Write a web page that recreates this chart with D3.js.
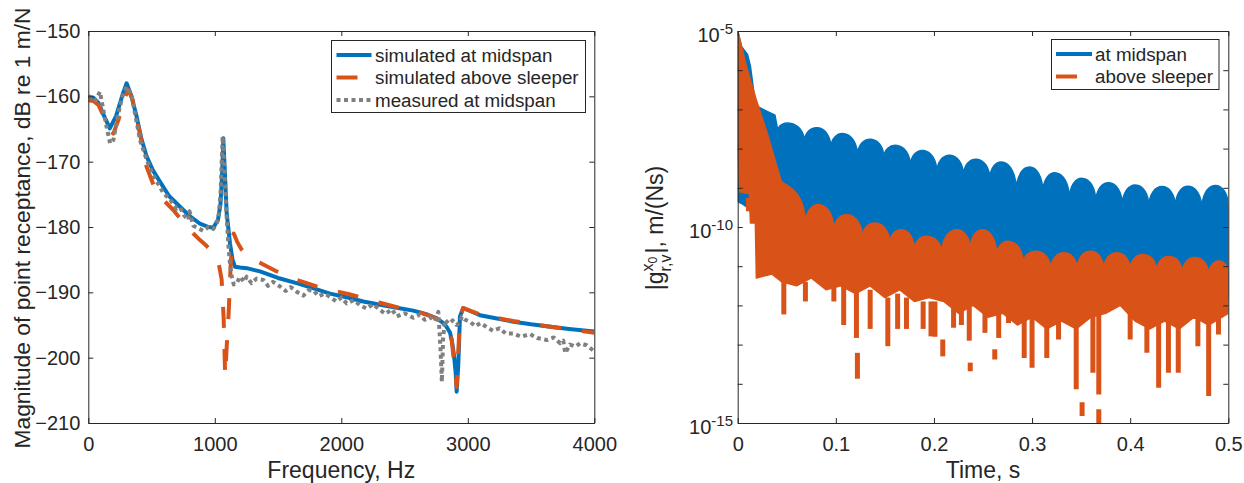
<!DOCTYPE html>
<html>
<head>
<meta charset="utf-8">
<script src="https://cdn.jsdelivr.net/npm/d3@7"></script>
<style>
  body { margin: 0; background: #fff; }
  text { font-family: "Liberation Sans", Arial, Helvetica, sans-serif; fill: #262626; }
</style>
</head>
<body>
<svg id="chart" width="1244" height="483"></svg>
<script>
// ---------- left panel: point receptance ----------
var freqTicks = [0, 1000, 2000, 3000, 4000];
var dbTicks = [-210, -200, -190, -180, -170, -160, -150];

var midFreq = [0, 40, 80, 120, 170, 220, 270, 303, 340, 382, 420, 461, 510, 567, 640, 725, 800, 883, 950, 988,
  1025, 1045, 1058, 1067, 1078, 1094, 1120, 1140, 1160, 1200, 1252, 1357, 1500, 1647, 1800, 1911, 2050, 2174,
  2306, 2450, 2569, 2680, 2754, 2800, 2833, 2860, 2873, 2890, 2905, 2912, 2925, 2938, 2964, 3000, 3096, 3200,
  3360, 3500, 3624, 3800, 4000];
var midDb = [-160.0, -160.2, -161.0, -162.8, -164.9, -163.0, -159.8, -158.0, -159.9, -163.1, -166.5, -169.2,
  -171.3, -173.1, -175.3, -176.9, -178.3, -179.5, -180.0, -180.1, -178.9, -176.5, -172.0, -166.4, -171.0,
  -177.9, -182.5, -185.0, -186.1, -186.2, -186.3, -186.8, -187.8, -188.6, -189.5, -190.2, -190.8, -191.4,
  -191.9, -192.4, -192.8, -193.4, -194.0, -194.6, -195.3, -196.2, -197.3, -199.5, -202.5, -205.2, -201.0,
  -193.7, -192.4, -192.7, -193.5, -193.9, -194.5, -194.9, -195.2, -195.6, -196.0];

var sleeperFreq = [0, 40, 80, 120, 160, 198, 240, 280, 316, 350, 400, 461, 520, 600, 672, 730, 778, 830, 883,
  930, 962, 1000, 1030, 1054, 1070, 1082, 1095, 1110, 1125, 1140, 1150, 1175, 1210, 1250, 1340, 1490, 1647,
  1805, 2062, 2306, 2464, 2600, 2754, 2833, 2873, 2912, 2938, 2964, 3096, 3360, 3624, 4000];
var sleeperDb = [-160.6, -160.7, -161.3, -163.0, -165.0, -165.7, -163.5, -160.5, -159.0, -160.5, -165.0,
  -170.8, -173.8, -176.0, -177.4, -178.8, -180.0, -181.0, -182.0, -182.8, -183.5, -184.3, -185.5, -188.0,
  -194.0, -202.8, -198.0, -193.0, -186.0, -181.5, -181.0, -182.2, -183.4, -184.2, -185.3, -186.8, -188.1,
  -189.1, -190.3, -191.6, -192.4, -192.9, -194.0, -195.3, -197.3, -204.5, -193.7, -192.4, -193.4, -194.4,
  -195.2, -196.2];

var measFreq = [0, 30, 60, 92, 119, 145, 172, 198, 237, 270, 303, 343, 369, 409, 461, 500, 540, 593, 646, 700,
  725, 760, 791, 800, 830, 870, 909, 950, 988, 1010, 1028, 1045, 1062, 1078, 1094, 1110, 1120, 1134, 1150,
  1173, 1200, 1230, 1252, 1290, 1330, 1383, 1420, 1460, 1515, 1560, 1600, 1647, 1700, 1740, 1779, 1820, 1870,
  1911, 1960, 2000, 2043, 2100, 2150, 2201, 2250, 2306, 2350, 2400, 2438, 2500, 2569, 2620, 2660, 2701, 2740,
  2767, 2775, 2785, 2795, 2805, 2820, 2850, 2880, 2910, 2940, 2952, 2980, 3017, 3060, 3100, 3149, 3200, 3250,
  3300, 3360, 3420, 3492, 3550, 3624, 3680, 3730, 3755, 3770, 3808, 3850, 3887, 3940, 3992, 4000];
var measDb = [-160.3, -160.0, -160.6, -159.3, -162.1, -164.7, -167.2, -166.7, -162.6, -160.0, -158.5, -160.0,
  -162.6, -166.7, -169.7, -171.5, -173.0, -174.8, -175.8, -177.2, -177.0, -178.3, -178.9, -177.6, -179.8,
  -180.2, -180.6, -180.0, -180.3, -179.6, -178.8, -175.0, -166.2, -172.0, -178.6, -183.5, -185.6, -187.6,
  -188.8, -188.6, -187.6, -188.4, -187.6, -188.6, -187.9, -188.1, -189.0, -188.4, -189.1, -189.8, -189.2,
  -189.9, -190.5, -189.7, -189.7, -190.6, -190.2, -190.7, -191.4, -190.8, -191.7, -191.2, -192.0, -192.5,
  -191.8, -192.7, -193.3, -192.6, -193.7, -193.2, -193.9, -193.4, -194.2, -193.8, -194.4, -193.0, -195.5,
  -199.0, -203.7, -197.0, -194.2, -194.8, -194.3, -195.0, -194.6, -193.7, -194.2, -194.5, -195.2, -194.7,
  -195.3, -195.9, -195.5, -196.3, -196.3, -196.8, -196.4, -197.0, -197.3, -196.9, -197.8, -197.4, -199.3,
  -198.0, -198.3, -197.8, -198.1, -198.9, -198.7, -198.6];

// ---------- right panel: impulse response magnitude (log10 of m/(Ns)) ----------
var timeTicks = [0, 0.1, 0.2, 0.3, 0.4, 0.5];
var decadeTicks = [-15, -14, -13, -12, -11, -10, -9, -8, -7, -6, -5];
var decadeLabels = [-15, -10, -5];

// at midspan: initial decay, then arches between valleys, then lower edge of the band
var midDecayT = [0, 0.004, 0.010, 0.013, 0.018, 0.022, 0.030, 0.038];
var midDecayLog = [-5.0, -5.4, -5.6, -5.9, -6.85, -6.95, -7.05, -7.15];
var midValleyT = [0.041, 0.068, 0.095, 0.122, 0.149, 0.176, 0.203, 0.230, 0.257, 0.284, 0.311, 0.338,
  0.365, 0.392, 0.419, 0.446, 0.473, 0.500];
var midValleyLog = [-7.55, -7.85, -8.0, -8.2, -8.25, -8.46, -8.63, -8.71, -8.8, -9.1, -9.13, -9.3, -9.38,
  -9.47, -9.5, -9.5, -9.56, -9.5];
var midPeakLog = [-7.36, -7.47, -7.62, -7.76, -7.92, -8.05, -8.17, -8.27, -8.35, -8.47, -8.62, -8.76, -8.87,
  -8.93, -8.97, -8.96, -8.94];
var midLowT = [0, 0.004, 0.010, 0.020, 0.030, 0.050, 0.100, 0.200, 0.300, 0.400, 0.500];
var midLowLog = [-9.35, -9.4, -9.5, -9.9, -10.4, -10.7, -10.9, -11.1, -11.3, -11.4, -11.8];

// above sleeper
var slpDecayT = [0, 0.003, 0.009, 0.019, 0.030, 0.040];
var slpDecayLog = [-5.0, -5.3, -5.92, -6.76, -7.6, -8.46];
var slpValleyT = [0.044, 0.069, 0.098, 0.127, 0.155, 0.180, 0.208, 0.237, 0.264, 0.291, 0.319, 0.346,
  0.373, 0.400, 0.427, 0.453, 0.480, 0.500];
var slpValleyLog = [-8.8, -9.95, -10.1, -10.3, -10.45, -10.6, -10.7, -10.6, -10.75, -10.95, -11.1, -11.1,
  -11.1, -11.1, -11.15, -11.2, -11.25, -11.2];
var slpPeakLog = [-9.05, -9.43, -9.69, -9.9, -10.07, -10.24, -10.07, -10.07, -10.37, -10.62, -10.66, -10.62,
  -10.66, -10.7, -10.75, -10.78, -10.87];
var slpLowT = [0, 0.002, 0.012, 0.013, 0.018, 0.019, 0.035, 0.045, 0.06, 0.075, 0.09, 0.105, 0.12, 0.135,
  0.15, 0.165, 0.18, 0.195, 0.21, 0.225, 0.24, 0.255, 0.27, 0.285, 0.30, 0.315, 0.33, 0.345, 0.36, 0.375,
  0.39, 0.405, 0.42, 0.435, 0.45, 0.465, 0.48, 0.5];
var slpLowLog = [-8.2, -9.1, -9.15, -9.9, -9.9, -11.3, -11.2, -11.4, -11.5, -11.3, -11.6, -11.5, -11.7, -11.5,
  -11.8, -11.6, -11.9, -11.8, -11.9, -12.2, -12.0, -12.3, -12.2, -12.5, -12.3, -12.6, -12.4, -12.6, -12.3,
  -12.2, -12.0, -12.4, -12.6, -12.4, -12.6, -12.3, -12.5, -12.2];
// downward spikes of the sleeper response: time, top, bottom
var slpSpikeT = [0.011, 0.047, 0.069, 0.098, 0.108, 0.121, 0.122, 0.135, 0.153, 0.163, 0.172, 0.189, 0.197,
  0.201, 0.209, 0.220, 0.228, 0.236, 0.237, 0.252, 0.262, 0.266, 0.276, 0.292, 0.300, 0.315, 0.327, 0.345,
  0.351, 0.362, 0.368, 0.368, 0.400, 0.417, 0.429, 0.439, 0.449, 0.469, 0.480, 0.490];
var slpSpikeTop = [-9.26, -11.3, -11.4, -11.5, -11.5, -11.6, -13.21, -11.6, -11.8, -11.7, -11.8, -11.9, -11.9,
  -11.9, -12.87, -11.9, -11.9, -11.9, -13.46, -12.0, -13.12, -12.0, -12.0, -12.1, -12.1, -12.2, -12.1, -12.3,
  -14.47, -12.2, -12.2, -14.65, -12.0, -12.2, -12.2, -12.2, -12.3, -12.2, -12.3, -12.2];
var slpSpikeBottom = [-9.6, -12.23, -11.9, -11.9, -12.5, -12.83, -13.87, -12.6, -13.04, -12.6, -12.6, -12.6,
  -12.79, -12.8, -13.3, -12.57, -12.5, -12.9, -13.68, -12.7, -13.38, -12.83, -12.45, -13.34, -13.59, -13.34,
  -12.87, -14.14, -14.82, -13.72, -14.27, -15.0, -12.87, -13.21, -14.1, -13.72, -13.72, -13.04, -14.31, -12.74];

var BLUE = "#0072BD", ORANGE = "#D95319", GRAY = "#808080", AXIS = "#262626";

var svg = d3.select("#chart");
svg.append("rect").attr("width", 1244).attr("height", 483).attr("fill", "#fff");

var plotTop = 31, plotBottom = 423;

function frame(x, y, bottomAxis, leftAxis) {
  var g = svg.append("g");
  g.append("g").attr("transform", "translate(0," + plotBottom + ")").call(bottomAxis);
  g.append("g").attr("transform", "translate(0," + plotTop + ")")
    .call(d3.axisTop(x).tickValues(bottomAxis.tickValues()).tickSize(-5).tickSizeOuter(0).tickFormat(""));
  g.append("g").attr("transform", "translate(" + x.range()[0] + ",0)").call(leftAxis);
  g.append("g").attr("transform", "translate(" + x.range()[1] + ",0)")
    .call(d3.axisRight(y).tickValues(leftAxis.tickValues()).tickSize(-5).tickSizeOuter(0).tickFormat(""));
  g.selectAll("path.domain, .tick line").attr("stroke", AXIS).attr("stroke-width", 1);
  g.selectAll(".tick text").attr("fill", AXIS).style("font-size", "20px")
    .style("font-family", '"Liberation Sans", Arial, sans-serif');
  return g;
}

// ===== left panel =====
var xF = d3.scaleLinear().domain([0, 4000]).range([88.3, 594.3]);
var yDb = d3.scaleLinear().domain([-210, -150]).range([plotBottom, plotTop]);

svg.append("clipPath").attr("id", "clipL").append("rect")
  .attr("x", xF.range()[0]).attr("y", plotTop).attr("width", xF.range()[1] - xF.range()[0]).attr("height", plotBottom - plotTop);

var plotL = svg.append("g").attr("clip-path", "url(#clipL)");
var lineF = d3.line().x(function (d) { return xF(d[0]); }).y(function (d) { return yDb(d[1]); });

plotL.append("path").attr("d", lineF(d3.zip(midFreq, midDb)))
  .attr("fill", "none").attr("stroke", BLUE).attr("stroke-width", 4).attr("stroke-linejoin", "round");
plotL.append("path").attr("d", lineF(d3.zip(sleeperFreq, sleeperDb)))
  .attr("fill", "none").attr("stroke", ORANGE).attr("stroke-width", 4).attr("stroke-linejoin", "round")
  .attr("stroke-dasharray", "21,21");
plotL.append("path").attr("d", lineF(d3.zip(measFreq, measDb)))
  .attr("fill", "none").attr("stroke", GRAY).attr("stroke-width", 4).attr("stroke-linejoin", "round")
  .attr("stroke-dasharray", "4,3.5");

frame(xF, yDb,
  d3.axisBottom(xF).tickValues(freqTicks).tickSize(-5).tickSizeOuter(0).tickPadding(14).tickFormat(d3.format("d")),
  d3.axisLeft(yDb).tickValues(dbTicks).tickSize(-5).tickSizeOuter(0).tickPadding(8).tickFormat(d3.format("d")));

svg.append("text").attr("x", 341.3).attr("y", 478).attr("text-anchor", "middle")
  .style("font-size", "23px").text("Frequency, Hz");
svg.append("text").attr("transform", "translate(30,228) rotate(-90)").attr("text-anchor", "middle")
  .style("font-size", "22.8px").text("Magnitude of point receptance, dB re 1 m/N");

// legend left
var legL = svg.append("g");
legL.append("rect").attr("x", 331.5).attr("y", 40.5).attr("width", 254).attr("height", 72)
  .attr("fill", "#fff").attr("stroke", AXIS).attr("stroke-width", 1);
var legItemsL = [
  { name: "simulated at midspan", color: BLUE, dash: null },
  { name: "simulated above sleeper", color: ORANGE, dash: "21,21" },
  { name: "measured at midspan", color: GRAY, dash: "4,3.5" }
];
legItemsL.forEach(function (d, i) {
  var yy = 55 + i * 22.5;
  legL.append("line").attr("x1", 336.5).attr("x2", 371.5).attr("y1", yy).attr("y2", yy)
    .attr("stroke", d.color).attr("stroke-width", 4).attr("stroke-dasharray", d.dash);
  legL.append("text").attr("x", 375).attr("y", yy).attr("dy", "0.35em").style("font-size", "18.8px").text(d.name);
});

// ===== right panel =====
var xT = d3.scaleLinear().domain([0, 0.5]).range([737.7, 1228.3]);
var yG = d3.scaleLog().domain([1e-15, 1e-5]).range([plotBottom, plotTop]);
function yL(e) { return yG(Math.pow(10, e)); }

svg.append("clipPath").attr("id", "clipR").append("rect")
  .attr("x", xT.range()[0]).attr("y", plotTop).attr("width", xT.range()[1] - xT.range()[0]).attr("height", plotBottom - plotTop);
var plotR = svg.append("g").attr("clip-path", "url(#clipR)");

// filled band: decay, arches between valleys, lower edge back to start
function bandPath(decT, decL, valT, valL, peakL, lowT, lowL) {
  var p = d3.path();
  p.moveTo(xT(decT[0]), yL(decL[0]));
  for (var i = 1; i < decT.length; i++) p.lineTo(xT(decT[i]), yL(decL[i]));
  p.lineTo(xT(valT[0]), yL(valL[0]));
  for (var j = 0; j < peakL.length; j++) {
    var x0 = xT(valT[j]), x1 = xT(valT[j + 1]);
    var y0 = yL(valL[j]), y1 = yL(valL[j + 1]), yp = yL(peakL[j]);
    var yc = (8 * yp - y0 - y1) / 6;
    p.bezierCurveTo(x0, yc, x1, yc, x1, y1);
  }
  for (var k = lowT.length - 1; k >= 0; k--) p.lineTo(xT(lowT[k]), yL(lowL[k]));
  p.closePath();
  return p.toString();
}

plotR.append("path").attr("d", bandPath(midDecayT, midDecayLog, midValleyT, midValleyLog, midPeakLog, midLowT, midLowLog))
  .attr("fill", BLUE).attr("stroke", BLUE).attr("stroke-width", 1.5).attr("stroke-linejoin", "round");
plotR.append("path").attr("d", bandPath(slpDecayT, slpDecayLog, slpValleyT, slpValleyLog, slpPeakLog, slpLowT, slpLowLog))
  .attr("fill", ORANGE).attr("stroke", ORANGE).attr("stroke-width", 1.5).attr("stroke-linejoin", "round");
plotR.append("g").selectAll("line").data(d3.range(slpSpikeT.length)).join("line")
  .attr("x1", function (i) { return xT(slpSpikeT[i]); })
  .attr("x2", function (i) { return xT(slpSpikeT[i]); })
  .attr("y1", function (i) { return yL(slpSpikeTop[i]); })
  .attr("y2", function (i) { return yL(slpSpikeBottom[i]); })
  .attr("stroke", ORANGE).attr("stroke-width", 5);

var decadeVals = decadeTicks.map(function (e) { return Math.pow(10, e); });
frame(xT, yG,
  d3.axisBottom(xT).tickValues(timeTicks).tickSize(-5).tickSizeOuter(0).tickPadding(14).tickFormat(d3.format("")),
  d3.axisLeft(yG).tickValues(decadeVals).tickSize(-5).tickSizeOuter(0).tickFormat(""));

// 10^n labels
decadeLabels.forEach(function (e) {
  var t = svg.append("text").attr("x", 733).attr("y", yL(e) + 11).attr("text-anchor", "end");
  t.append("tspan").style("font-size", "20px").text("10");
  t.append("tspan").style("font-size", "15px").attr("dy", -8).text(String(e));
});

svg.append("text").attr("x", 983).attr("y", 478).attr("text-anchor", "middle")
  .style("font-size", "23px").text("Time, s");

var yLab = svg.append("text").attr("transform", "translate(663,228) rotate(-90)").attr("text-anchor", "middle")
  .style("font-size", "23px");
yLab.append("tspan").text("|g");
yLab.append("tspan").style("font-size", "16px").attr("dy", -10).text("x");
yLab.append("tspan").style("font-size", "12px").attr("dy", 4).text("0");
yLab.append("tspan").style("font-size", "16px").attr("dx", -14.7).attr("dy", 14).text("r,v");
yLab.append("tspan").attr("dx", 1).attr("dy", -8).text("|, m/(Ns)");

// legend right
var legR = svg.append("g");
legR.append("rect").attr("x", 1051.5).attr("y", 39.5).attr("width", 167.5).attr("height", 50)
  .attr("fill", "#fff").attr("stroke", AXIS).attr("stroke-width", 1);
var legItemsR = [
  { name: "at midspan", color: BLUE, dash: null },
  { name: "above sleeper", color: ORANGE, dash: "21,21" }
];
legItemsR.forEach(function (d, i) {
  var yy = 54 + i * 22.5;
  legR.append("line").attr("x1", 1056).attr("x2", 1092).attr("y1", yy).attr("y2", yy)
    .attr("stroke", d.color).attr("stroke-width", 4).attr("stroke-dasharray", d.dash);
  legR.append("text").attr("x", 1095).attr("y", yy).attr("dy", "0.35em").style("font-size", "18.8px").text(d.name);
});
</script>
</body>
</html>
